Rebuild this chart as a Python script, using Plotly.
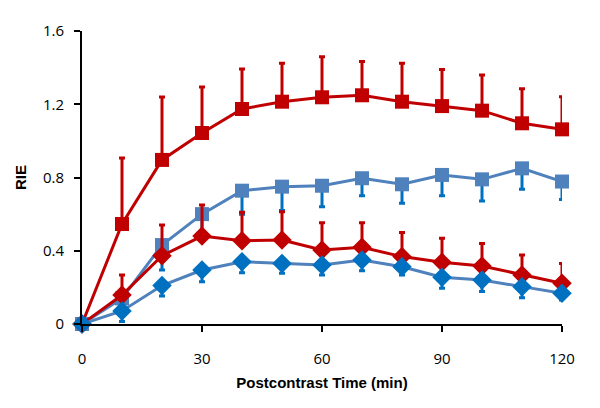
import plotly.graph_objects as go

time_min = [0, 10, 20, 30, 40, 50, 60, 70, 80, 90, 100, 110, 120]

red_sq = [0, 0.546, 0.896, 1.043, 1.174, 1.214, 1.238, 1.249, 1.214, 1.19, 1.165, 1.096, 1.063]
red_sq_err = [0, 0.361, 0.344, 0.251, 0.219, 0.21, 0.222, 0.184, 0.21, 0.2, 0.195, 0.189, 0.178]

blue_sq = [0, 0.14, 0.431, 0.60, 0.728, 0.75, 0.755, 0.796, 0.763, 0.814, 0.79, 0.85, 0.778]
blue_sq_err = [0, 0.06, 0.136, 0.1, 0.128, 0.13, 0.115, 0.096, 0.103, 0.114, 0.118, 0.114, 0.098]

red_dia = [0, 0.158, 0.373, 0.48, 0.455, 0.459, 0.404, 0.419, 0.368, 0.337, 0.317, 0.268, 0.222]
red_dia_err = [0, 0.11, 0.167, 0.17, 0.155, 0.154, 0.149, 0.134, 0.131, 0.131, 0.123, 0.109, 0.109]

blue_dia = [0, 0.071, 0.21, 0.295, 0.34, 0.331, 0.322, 0.35, 0.313, 0.255, 0.24, 0.204, 0.168]
blue_dia_err = [0, 0.058, 0.057, 0.064, 0.06, 0.054, 0.054, 0.059, 0.045, 0.06, 0.063, 0.06, 0.037]

x_ticks = [0, 30, 60, 90, 120]
y_ticks = [0, 0.4, 0.8, 1.2, 1.6]
y_tick_text = ["0", "0.4", "0.8", "1.2", "1.6"]

RED = "#C00000"
LBLUE = "#4F81BD"
DBLUE = "#0070C0"
zeros = [0] * len(time_min)

fig = go.Figure()

def add(y, err, up, line_c, marker_c, err_c, symbol, size):
    fig.add_trace(go.Scatter(
        x=time_min, y=y, mode="lines+markers",
        line=dict(color=line_c, width=3),
        marker=dict(symbol=symbol, size=size, color=marker_c),
        error_y=dict(type="data", symmetric=False,
                     array=err if up else zeros,
                     arrayminus=zeros if up else err,
                     color=err_c, thickness=3, width=3),
        cliponaxis=False, showlegend=False))

add(red_sq, red_sq_err, True, RED, RED, RED, "square", 14)
add(blue_sq, blue_sq_err, False, LBLUE, LBLUE, DBLUE, "square", 14)
add(red_dia, red_dia_err, True, RED, RED, RED, "diamond", 15)
add(blue_dia, blue_dia_err, False, LBLUE, DBLUE, DBLUE, "diamond", 15)

font_fam = "Liberation Sans, Arial, sans-serif"
fig.update_layout(
    width=600, height=408,
    margin=dict(l=74, r=46, t=23, b=92),
    paper_bgcolor="white", plot_bgcolor="white",
    font=dict(family=font_fam, color="black"),
    xaxis=dict(range=[0, 120], tickvals=x_ticks, showgrid=False, zeroline=False,
               automargin=False,
               showline=True, linecolor="black", linewidth=2,
               ticks="outside", ticklen=6, tickwidth=2, tickcolor="black",
               tickfont=dict(size=15, family="Open Sans, sans-serif"),
               ticklabelstandoff=14,
               title=dict(text="<b>Postcontrast Time (min)</b>", font=dict(size=15), standoff=10)),
    yaxis=dict(range=[0, 1.6], tickvals=y_ticks, ticktext=y_tick_text, showgrid=False, zeroline=False,
               automargin=False,
               showline=True, linecolor="black", linewidth=2,
               ticks="outside", ticklen=6, tickwidth=2, tickcolor="black",
               tickfont=dict(size=15, family="Open Sans, sans-serif"),
               ticklabelstandoff=7,
               title=dict(text="<b>RIE</b>", font=dict(size=15), standoff=13)),
)

fig.write_html("out.html")
